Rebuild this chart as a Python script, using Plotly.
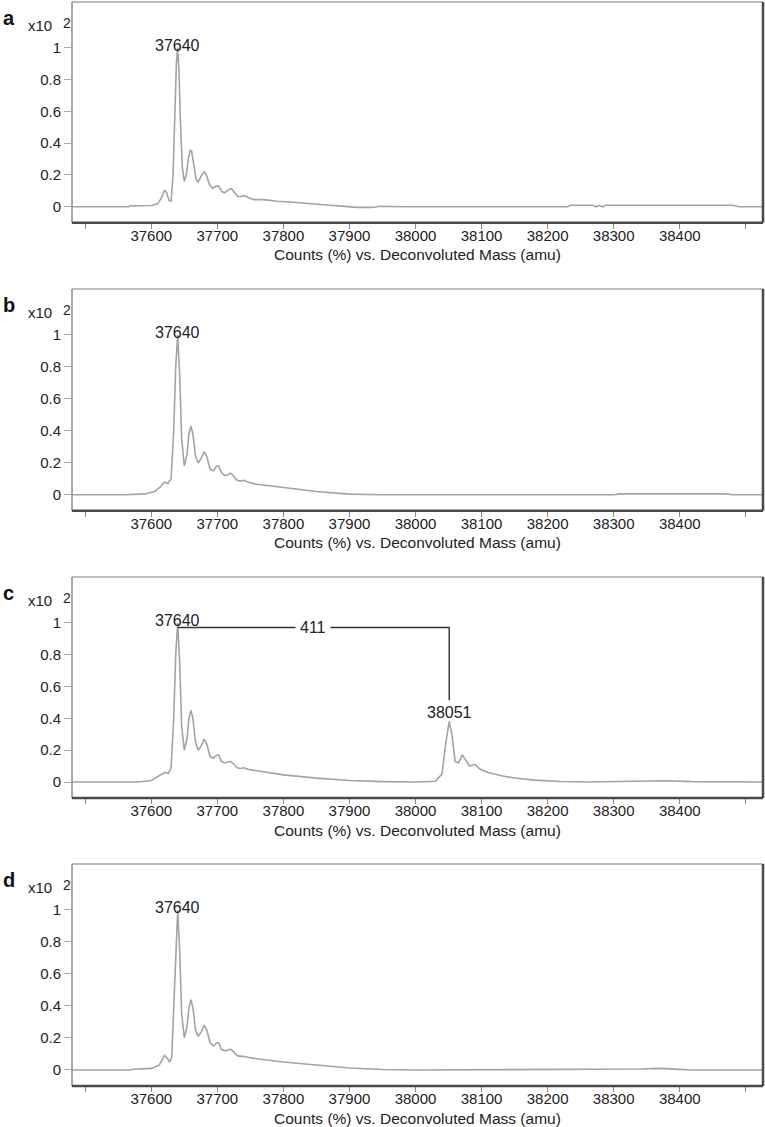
import plotly.graph_objects as go

# ---------------- data ----------------
mass_a = [37480, 37566, 37568, 37600, 37610, 37616, 37620, 37623, 37627, 37630, 37633, 37636, 37638,
          37640, 37642, 37644, 37647, 37650, 37653, 37656, 37659, 37661, 37664, 37668, 37671, 37675,
          37680, 37683, 37688, 37693, 37698, 37702, 37707, 37711, 37716, 37721, 37726, 37731, 37736,
          37741, 37746, 37755, 37770, 37790, 37810, 37830, 37850, 37870, 37890, 37910, 37935, 37945,
          37960, 37990, 38230, 38235, 38268, 38273, 38278, 38283, 38288, 38480, 38490, 38526]
int_a = [0, 0, 0.006, 0.008, 0.02, 0.06, 0.105, 0.09, 0.04, 0.035, 0.2, 0.6, 0.9,
         1.0, 0.85, 0.55, 0.25, 0.16, 0.2, 0.3, 0.355, 0.35, 0.26, 0.17, 0.155, 0.19,
         0.22, 0.205, 0.14, 0.115, 0.13, 0.13, 0.095, 0.088, 0.105, 0.115, 0.09, 0.065, 0.065,
         0.07, 0.06, 0.045, 0.045, 0.035, 0.03, 0.022, 0.018, 0.01, 0.004, -0.004, -0.004, 0.003,
         0.002, 0, 0, 0.01, 0.01, 0.0, 0.008, 0.0, 0.01, 0.01, 0, 0]

mass_b = [37480, 37560, 37590, 37605, 37614, 37620, 37625, 37630, 37634, 37637, 37640, 37643, 37646,
          37650, 37654, 37657, 37660, 37663, 37667, 37671, 37676, 37680, 37684, 37689, 37694, 37699,
          37702, 37706, 37711, 37716, 37720, 37724, 37730, 37735, 37740, 37746, 37760, 37780, 37800,
          37820, 37850, 37880, 37900, 37950, 38300, 38310, 38470, 38480, 38526]
int_b = [0, 0, 0.005, 0.02, 0.05, 0.08, 0.07, 0.1, 0.4, 0.8, 1.0, 0.75, 0.35,
         0.18, 0.25, 0.38, 0.43, 0.38, 0.24, 0.2, 0.23, 0.27, 0.24, 0.16, 0.15, 0.18,
         0.18, 0.14, 0.12, 0.125, 0.135, 0.12, 0.09, 0.085, 0.09, 0.08, 0.065, 0.055, 0.045,
         0.035, 0.02, 0.01, 0.004, 0, 0, 0.005, 0.005, 0, 0]

mass_c = [37480, 37580, 37600, 37612, 37620, 37626, 37630, 37634, 37637, 37640, 37643, 37646,
          37650, 37654, 37657, 37660, 37663, 37667, 37671, 37676, 37680, 37684, 37689, 37694, 37699,
          37702, 37706, 37711, 37716, 37720, 37724, 37730, 37735, 37740, 37746, 37760, 37800, 37850,
          37900, 37950, 38000, 38030, 38040, 38046, 38051, 38055, 38060, 38065, 38071, 38077, 38082,
          38090, 38098, 38110, 38130, 38150, 38180, 38220, 38260, 38330, 38380, 38420, 38526]
int_c = [0, 0, 0.01, 0.04, 0.06, 0.055, 0.09, 0.4, 0.8, 1.0, 0.75, 0.35,
         0.2, 0.27, 0.4, 0.45, 0.4, 0.25, 0.2, 0.23, 0.27, 0.24, 0.16, 0.15, 0.17,
         0.17, 0.13, 0.12, 0.125, 0.13, 0.115, 0.09, 0.085, 0.09, 0.08, 0.07, 0.045, 0.025,
         0.01, 0.003, 0, 0.005, 0.05, 0.25, 0.38, 0.3, 0.13, 0.12, 0.17, 0.13, 0.1,
         0.11, 0.08, 0.06, 0.04, 0.025, 0.012, 0.004, 0, 0.005, 0.008, 0.003, 0]

mass_d = [37480, 37568, 37572, 37600, 37612, 37617, 37620, 37624, 37628, 37631, 37634, 37637, 37640,
          37643, 37646, 37650, 37654, 37657, 37660, 37663, 37667, 37671, 37676, 37680, 37684, 37689,
          37694, 37699, 37702, 37706, 37711, 37716, 37720, 37724, 37730, 37735, 37740, 37746, 37760,
          37800, 37850, 37900, 37950, 38000, 38340, 38370, 38400, 38420, 38526]
int_d = [0, 0, 0.005, 0.01, 0.03, 0.07, 0.09, 0.075, 0.05, 0.08, 0.4, 0.8, 1.0,
         0.75, 0.35, 0.2, 0.27, 0.39, 0.44, 0.39, 0.25, 0.21, 0.24, 0.28, 0.25, 0.17,
         0.15, 0.17, 0.17, 0.13, 0.12, 0.125, 0.13, 0.115, 0.09, 0.085, 0.085, 0.08, 0.07,
         0.05, 0.03, 0.012, 0.003, 0, 0.006, 0.01, 0.004, 0, 0]

panel_letters = ["a", "b", "c", "d"]
masses = [mass_a, mass_b, mass_c, mass_d]
intensities = [int_a, int_b, int_c, int_d]
peak_labels = [[37640], [37640], [37640, 38051], [37640]]

x_tick_vals = list(range(37500, 38501, 100))
x_tick_text = ["" if v in (37500, 38500) else str(v) for v in x_tick_vals]
y_tick_vals = [0, 0.2, 0.4, 0.6, 0.8, 1]
y_tick_text = ["0", "0.2", "0.4", "0.6", "0.8", "1"]
x_range = [37480, 38526]
y_range = [-0.1, 1.287]

x_title = "Counts (%) vs. Deconvoluted Mass (amu)"
y_scale_text = "x10"
y_scale_exp = "2"

# mass-difference bracket in panel c
bracket_left = 37640
bracket_right = 38051
bracket_level = 0.97
bracket_bottom = 0.514

# ---------------- layout geometry ----------------
W, H = 765, 1127
ML, MR, MT, MB = 72, 2, 2, 41
panel_px = [(2, 222.7), (289, 510.7), (577, 798), (864, 1086)]
plot_h = H - MT - MB


def dom(top, bottom):
    return [(H - MB - bottom) / plot_h, (H - MB - top) / plot_h]


FONT = "Liberation Sans, Arial, sans-serif"
TXT = "#222222"
LINE = "#a3a3a3"
LIGHT = "#bdbdbd"
DARK = "#4a4a4a"

fig = go.Figure()
annotations = []
shapes = []

for i in range(4):
    n = "" if i == 0 else str(i + 1)
    xa, ya = "x" + n, "y" + n
    fig.add_trace(go.Scatter(x=masses[i], y=intensities[i], mode="lines",
                             line=dict(color=LINE, width=1.6), xaxis=xa, yaxis=ya,
                             hoverinfo="x+y", showlegend=False))
    top, bottom = panel_px[i]
    fig.update_layout(**{
        "xaxis" + n: dict(domain=[0, 1], anchor=ya, range=x_range, tickmode="array",
                          tickvals=x_tick_vals, ticktext=x_tick_text, ticks="outside",
                          ticklen=5, tickwidth=1, tickcolor="#888888", showgrid=False,
                          zeroline=False, showline=False, ticklabelstandoff=-6,
                          tickfont=dict(family=FONT, size=15, color=TXT)),
        "yaxis" + n: dict(domain=dom(top, bottom), anchor=xa, range=y_range, tickmode="array",
                          tickvals=y_tick_vals, ticktext=y_tick_text, ticks="outside",
                          ticklen=7, tickwidth=1, tickcolor="#aaaaaa", showgrid=False,
                          zeroline=False, showline=False,
                          tickfont=dict(family=FONT, size=15, color=TXT)),
    })
    xd, yd = xa + " domain", ya + " domain"
    # frame: light top/left, dark bottom/right
    shapes += [
        dict(type="line", xref=xd, yref=yd, x0=0, x1=1, y0=1, y1=1, line=dict(color=LIGHT, width=2)),
        dict(type="line", xref=xd, yref=yd, x0=0, x1=0, y0=0, y1=1, line=dict(color="#8a8a8a", width=1.5)),
        dict(type="line", xref=xd, yref=yd, x0=0, x1=1, y0=0, y1=0, line=dict(color=DARK, width=2.5)),
        dict(type="line", xref=xd, yref=yd, x0=1, x1=1, y0=0, y1=1, line=dict(color=DARK, width=2.5)),
    ]
    # panel letter and scale
    annotations += [
        dict(text="<b>%s</b>" % panel_letters[i], xref=xd, yref=yd, x=0, y=1, xanchor="left",
             yanchor="middle", xshift=-71, yshift=-16, showarrow=False,
             font=dict(family=FONT, size=20, color="#111111")),
        dict(text=y_scale_text, xref=xd, yref=yd, x=0, y=1, xanchor="left", yanchor="middle",
             xshift=-46, yshift=-23, showarrow=False, font=dict(family=FONT, size=15, color=TXT)),
        dict(text=y_scale_exp, xref=xd, yref=yd, x=0, y=1, xanchor="left", yanchor="middle",
             xshift=-11, yshift=-21, showarrow=False, font=dict(family=FONT, size=14, color=TXT)),
        dict(text=x_title, xref=xd, yref=yd, x=0.5, y=0, xanchor="center", yanchor="middle",
             yshift=-32, showarrow=False, font=dict(family=FONT, size=15.5, color=TXT)),
    ]
    # peak labels
    for pk in peak_labels[i]:
        pv = intensities[i][masses[i].index(pk)]
        shift = -8 if pv > 0.9 else -1
        annotations.append(dict(text=str(pk), xref=xa, yref=ya, x=pk, y=pv, xanchor="center",
                                yanchor="bottom", yshift=shift, showarrow=False,
                                font=dict(family=FONT, size=16, color=TXT)))

# bracket in panel c
fig.add_trace(go.Scatter(x=[bracket_left, bracket_right, bracket_right],
                         y=[bracket_level, bracket_level, bracket_bottom], mode="lines",
                         line=dict(color="#333333", width=1.4), xaxis="x3", yaxis="y3",
                         hoverinfo="skip", showlegend=False))
annotations.append(dict(text=str(bracket_right - bracket_left), xref="x3", yref="y3",
                        x=(bracket_left + bracket_right) / 2, y=bracket_level, xanchor="center",
                        yanchor="middle", showarrow=False, bgcolor="white", borderpad=4,
                        font=dict(family=FONT, size=16, color=TXT)))

fig.update_layout(width=W, height=H, margin=dict(l=ML, r=MR, t=MT, b=MB),
                  paper_bgcolor="white", plot_bgcolor="white", showlegend=False,
                  annotations=annotations, shapes=shapes,
                  font=dict(family=FONT, size=16, color=TXT))

fig.write_html("out.html", config={"displayModeBar": False},
               post_script="document.body.style.margin='0px';")
